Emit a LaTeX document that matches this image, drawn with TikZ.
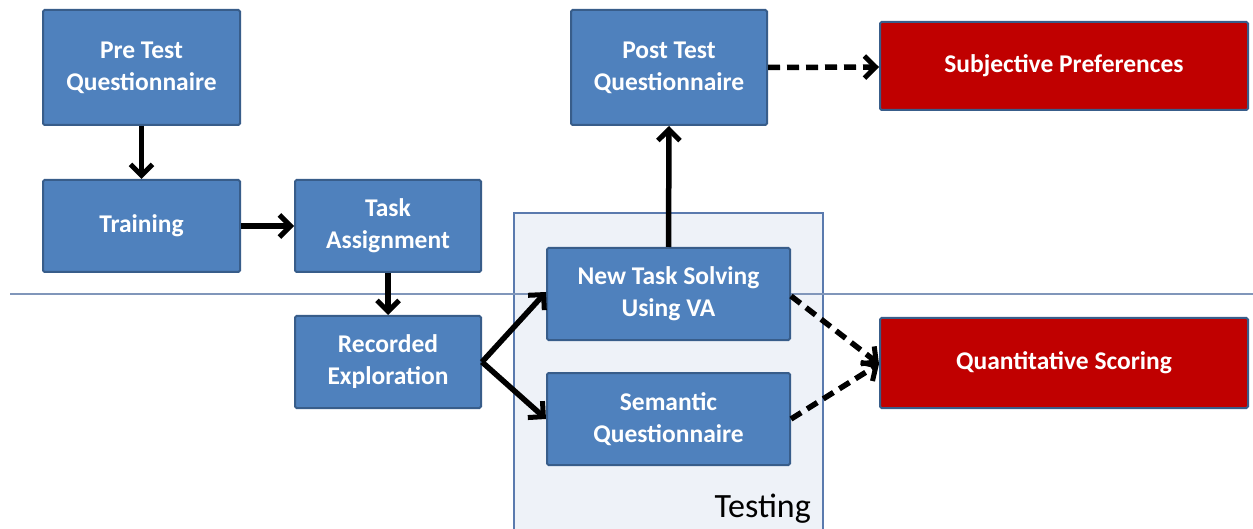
\documentclass[tikz,border=0pt]{standalone}
\usepackage{fontspec}
\setmainfont{Carlito}
\usetikzlibrary{arrows.meta}
\definecolor{boxblue}{HTML}{4F81BD}
\definecolor{boxedge}{HTML}{385D8A}
\definecolor{boxred}{HTML}{C00000}
\definecolor{testfill}{HTML}{EEF2F8}
\definecolor{testedge}{HTML}{5A7AAE}
\definecolor{sepline}{HTML}{8096BA}
\tikzset{
  bluebox/.style={draw=boxedge, line width=2pt, fill=boxblue, text=white,
    font=\fontsize{25.5}{32}\selectfont\bfseries, align=center, inner sep=0pt, rounded corners=1.5pt},
  redbox/.style={bluebox, fill=boxred},
  conn/.style={line width=5.5pt, -{Straight Barb[length=11pt,width=22pt,line width=5pt]}},
  dconn/.style={conn, dash pattern=on 12pt off 7pt}
}
\begin{document}
\begin{tikzpicture}[x=1pt,y=-1pt]
\useasboundingbox (0,0) rectangle (1253,529);
\clip (0,0) rectangle (1253,529);
\fill[white] (0,0) rectangle (1253,529);
% Testing region
\draw[draw=testedge, fill=testfill, line width=1.4pt] (514,213) rectangle (823,540);
\node[font=\fontsize{34}{40}\selectfont, anchor=base east, inner sep=0pt] (testlbl) at (811,517) {Testing};
% separator line
\draw[sepline, line width=1.3pt] (10,294) -- (1253,294);
% boxes
\node[bluebox, minimum width=197pt, minimum height=115pt] (pre) at (141.5,67.5) {Pre Test\\Questionnaire};
\node[bluebox, minimum width=197pt, minimum height=92pt] (train) at (141.5,226) {Training};
\node[bluebox, minimum width=186pt, minimum height=92pt] (task) at (388,226) {Task\\Assignment};
\node[bluebox, minimum width=186pt, minimum height=92pt] (rec) at (388,362) {Recorded\\Exploration};
\node[bluebox, minimum width=243pt, minimum height=92pt] (new) at (668.5,294) {New Task Solving\\Using VA};
\node[bluebox, minimum width=243pt, minimum height=92pt] (sem) at (668.5,419) {Semantic\\Questionnaire};
\node[bluebox, minimum width=196pt, minimum height=115pt] (post) at (669,67.5) {Post Test\\Questionnaire};
\node[redbox, minimum width=368pt, minimum height=88pt] (subj) at (1064,66) {Subjective Preferences};
\node[redbox, minimum width=368pt, minimum height=90pt] (quant) at (1064,363) {Quantitative Scoring};
% connectors
\draw[conn] (pre.south) -- (train.north);
\draw[conn] (train.east) -- (task.west);
\draw[conn] (task.south) -- (rec.north);
\draw[conn] (rec.east) -- ([yshift=2pt]new.west);
\draw[conn] (rec.east) -- (sem.west);
\draw[conn] (new.north) -- (post.south);
\draw[dconn] (post.east) -- ([yshift=-1pt]subj.west);
\draw[dconn] ([yshift=-2pt]new.east) -- ([yshift=-1pt]quant.west);
\draw[dconn] (sem.east) -- ([yshift=-1pt]quant.west);
\end{tikzpicture}
\end{document}
